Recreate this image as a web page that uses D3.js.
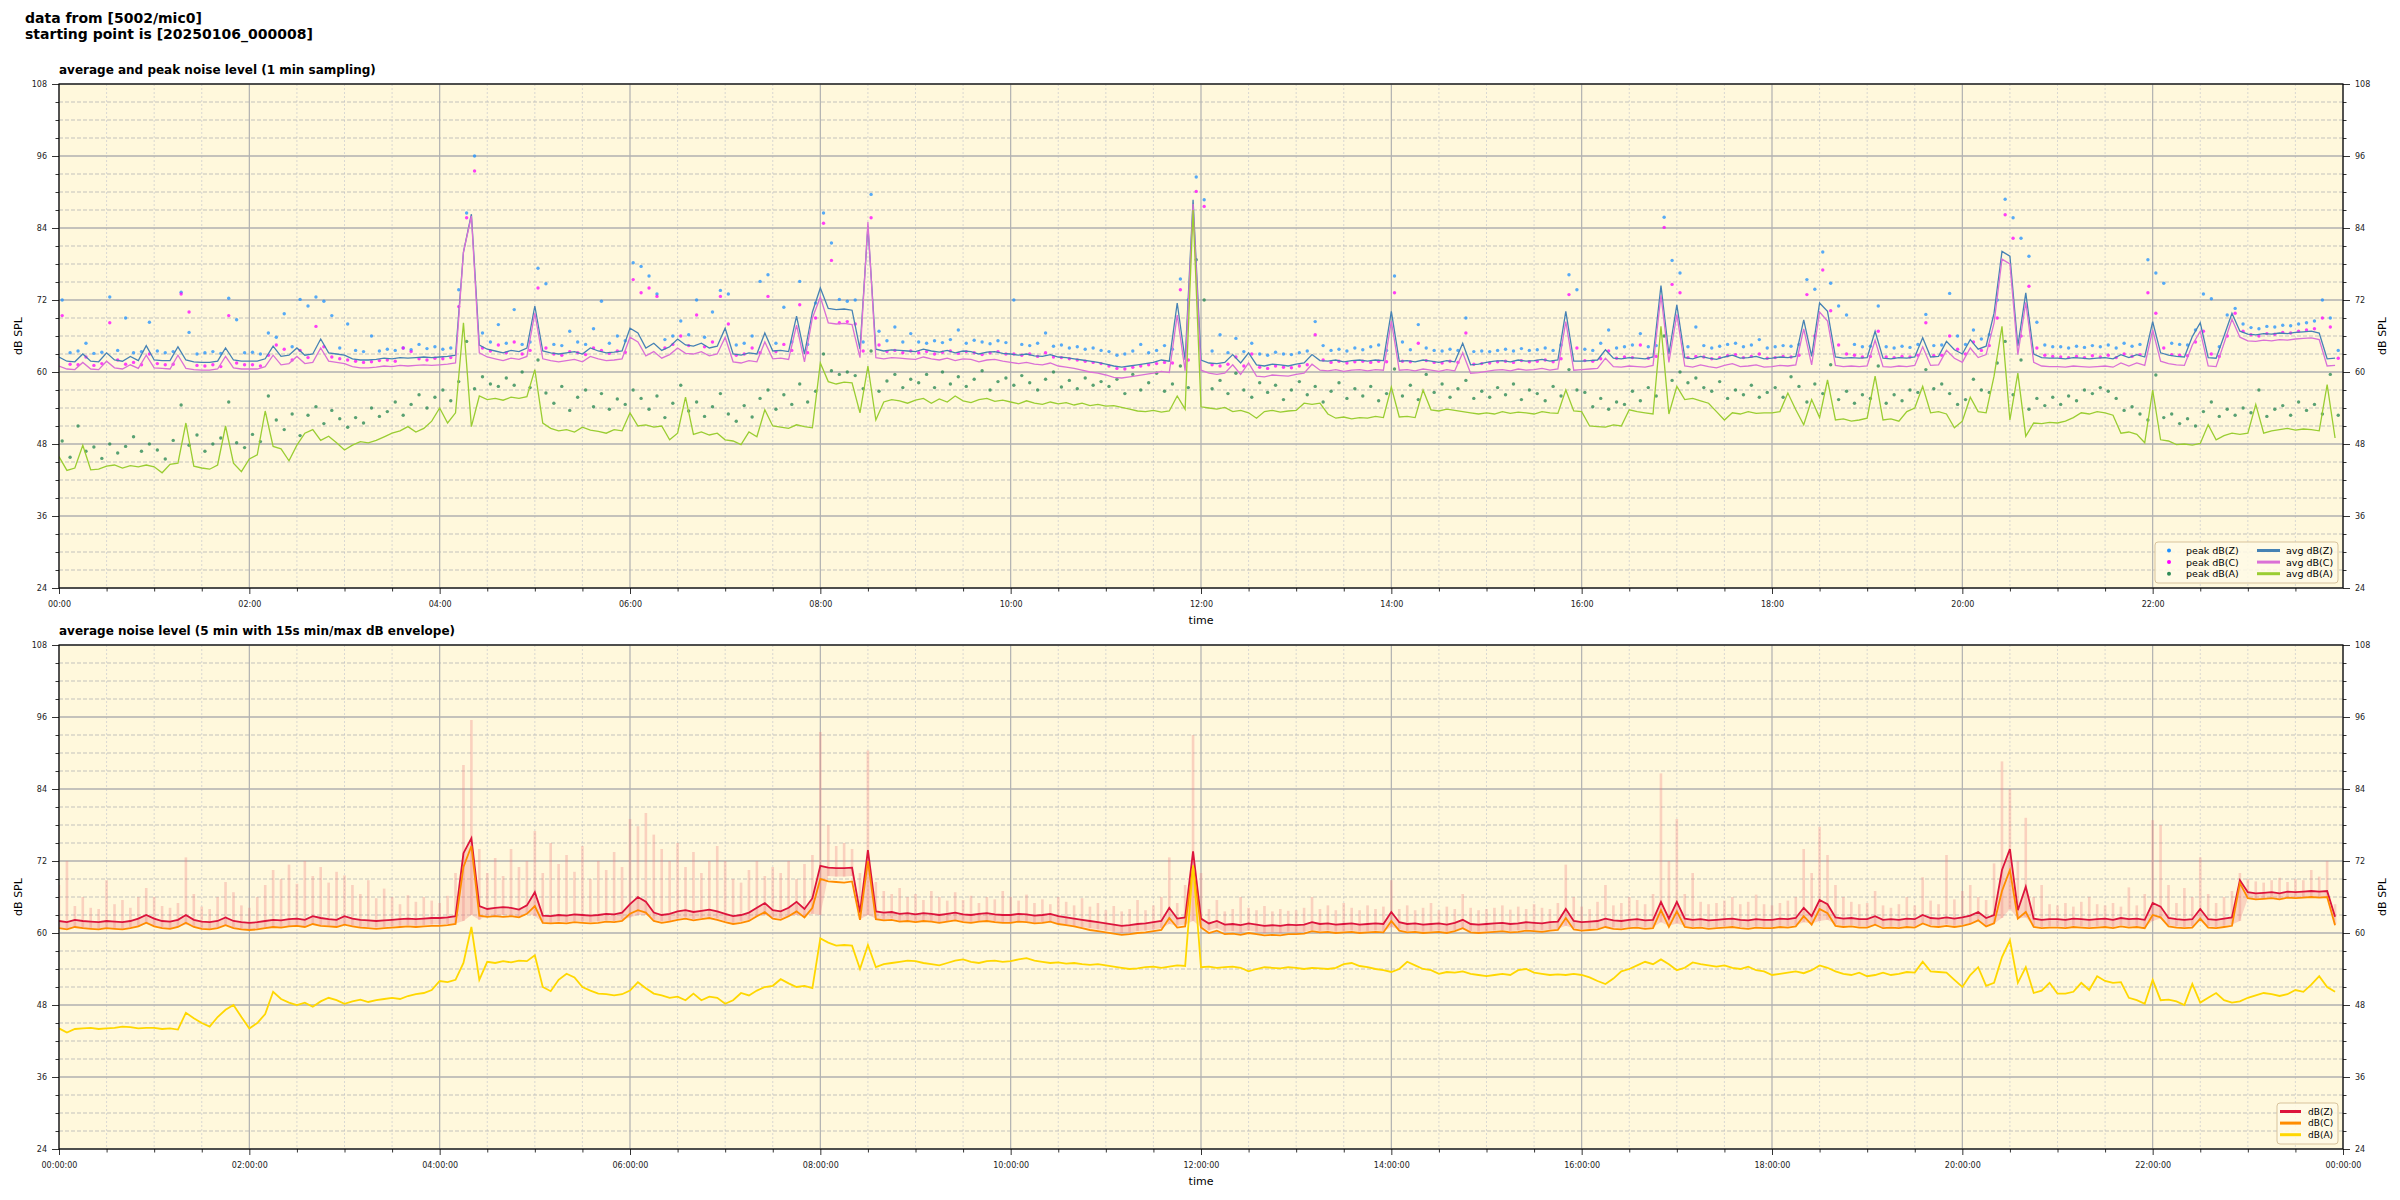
<!DOCTYPE html>
<html>
<head>
<meta charset="utf-8">
<script src="https://cdn.jsdelivr.net/npm/d3@7"></script>
<style>
  body { margin: 0; background: #fff; }
  svg { display: block; }
  text { font-family: "DejaVu Sans", sans-serif; }
</style>
</head>
<body>
<svg id="chart" width="2400" height="1200"></svg>
<script>
// values are 5 minute samples, 12 per row = one hour, 00:00 .. 23:55

// top panel, 1 min average (read at 5 min steps)
const avgZ = [
  62.5, 61.8, 61.7, 63.0, 61.8, 61.7, 63.2, 62.0, 61.8, 62.6, 61.9, 64.4,
  62.0, 61.9, 61.9, 64.2, 62.0, 61.7, 61.6, 61.6, 61.8, 64.0, 62.0, 61.8,
  61.8, 61.8, 62.2, 64.3, 62.6, 62.8, 64.0, 62.8, 63.0, 65.5, 63.2, 63.0,
  62.8, 62.2, 62.0, 62.0, 62.1, 62.3, 62.2, 62.4, 62.3, 62.4, 62.5, 62.4,
  62.5, 62.6, 62.8, 80.0, 86.3, 64.5, 63.8, 63.5, 63.2, 63.6, 63.4, 64.0,
  71.0, 63.5, 63.2, 63.0, 63.2, 63.4, 63.0, 64.0, 63.5, 63.2, 63.3, 63.5,
  67.3, 66.5, 64.0, 64.8, 63.6, 64.2, 65.5, 64.5, 64.3, 64.8, 64.0, 64.3,
  67.3, 63.0, 62.8, 63.2, 63.0, 66.5, 63.5, 63.6, 63.4, 69.3, 63.0, 70.0,
  74.0, 70.6, 70.4, 70.5, 70.3, 63.8, 84.3, 63.8, 63.5, 63.7, 63.6, 63.5,
  63.4, 63.8, 63.5, 63.3, 63.6, 63.2, 63.5, 63.4, 63.0, 63.3, 63.4, 63.1,
  63.0, 62.8, 63.0, 62.7, 62.6, 62.9, 62.5, 62.4, 62.2, 62.0, 61.8, 61.6,
  61.3, 61.0, 60.8, 61.0, 61.2, 61.4, 61.6, 62.0, 61.8, 71.5, 62.0, 88.7,
  62.0, 61.5, 61.4, 61.6, 62.9, 61.5, 63.2, 61.2, 61.0, 61.3, 61.2, 61.0,
  61.3, 61.5, 62.9, 61.9, 61.8, 62.0, 61.7, 61.9, 62.0, 61.8, 62.0, 61.9,
  70.1, 61.8, 61.9, 61.7, 62.0, 61.8, 61.6, 61.9, 61.7, 64.8, 61.2, 61.3,
  61.6, 61.8, 61.9, 61.7, 62.0, 61.8, 61.9, 62.1, 61.8, 62.0, 70.1, 61.8,
  61.8, 61.9, 62.0, 63.7, 62.3, 62.2, 62.4, 62.3, 62.2, 62.5, 74.4, 63.0,
  71.2, 62.4, 62.2, 62.6, 62.3, 62.1, 62.5, 62.8, 62.3, 62.4, 62.6, 62.2,
  62.3, 62.5, 62.4, 62.6, 68.7, 62.6, 71.5, 70.1, 62.5, 62.3, 62.4, 62.3,
  62.4, 66.8, 62.3, 62.2, 62.4, 62.3, 62.5, 65.7, 62.5, 62.6, 65.1, 63.7,
  63.0, 65.4, 63.8, 64.3, 69.8, 80.1, 79.3, 64.3, 73.2, 63.0, 62.4, 62.3,
  62.3, 62.2, 62.4, 62.3, 62.2, 62.3, 62.4, 62.2, 62.9, 62.4, 62.9, 62.5,
  68.4, 63.2, 62.8, 62.6, 62.5, 65.9, 68.2, 62.4, 62.3, 66.0, 69.8, 66.8,
  66.3, 66.2, 66.4, 66.3, 66.5, 66.4, 66.6, 66.7, 66.8, 66.5, 62.2, 62.3
];
const avgC = [
  61.0, 60.5, 60.4, 61.6, 60.5, 60.4, 61.8, 60.7, 60.5, 61.2, 60.6, 62.8,
  60.7, 60.6, 60.5, 62.8, 60.6, 60.4, 60.3, 60.3, 60.5, 62.6, 60.7, 60.5,
  60.5, 60.5, 60.9, 62.8, 61.2, 61.4, 62.6, 61.4, 61.6, 64.0, 61.8, 61.6,
  61.4, 60.9, 60.7, 60.7, 60.8, 61.0, 60.9, 61.1, 61.0, 61.1, 61.2, 61.1,
  61.2, 61.3, 61.5, 80.0, 86.0, 63.2, 62.5, 62.2, 61.9, 62.3, 62.1, 62.6,
  69.8, 62.2, 61.9, 61.7, 61.9, 62.1, 61.7, 62.6, 62.2, 61.9, 62.0, 62.2,
  65.8, 65.0, 62.7, 63.4, 62.3, 62.9, 64.0, 63.1, 63.0, 63.4, 62.7, 63.0,
  65.8, 61.7, 61.5, 61.9, 61.7, 65.0, 62.2, 62.3, 62.1, 67.8, 61.7, 69.0,
  72.5, 68.2, 68.0, 68.1, 67.9, 62.4, 85.0, 62.4, 62.2, 62.4, 62.3, 62.2,
  62.1, 62.5, 62.2, 62.0, 62.3, 61.9, 62.2, 62.1, 61.7, 62.0, 62.1, 61.8,
  61.6, 61.4, 61.6, 61.3, 61.2, 61.5, 61.0, 60.8, 60.6, 60.3, 60.0, 59.8,
  59.5, 59.1, 59.0, 59.2, 59.4, 59.6, 59.8, 60.1, 59.9, 69.5, 60.2, 88.0,
  60.3, 59.8, 59.6, 59.8, 61.2, 59.6, 61.5, 59.3, 59.2, 59.5, 59.4, 59.3,
  59.6, 59.8, 61.3, 60.3, 60.2, 60.4, 60.1, 60.3, 60.4, 60.2, 60.4, 60.3,
  68.5, 60.3, 60.4, 60.2, 60.5, 60.3, 60.1, 60.4, 60.2, 63.2, 59.8, 59.9,
  60.1, 60.3, 60.4, 60.2, 60.5, 60.3, 60.4, 60.6, 60.3, 60.5, 68.4, 60.3,
  60.4, 60.5, 60.6, 62.3, 60.9, 60.8, 61.0, 60.9, 60.8, 61.1, 72.8, 61.6,
  69.6, 61.0, 60.8, 61.2, 60.9, 60.7, 61.1, 61.4, 60.9, 61.0, 61.2, 60.8,
  60.9, 61.1, 61.0, 61.2, 67.2, 61.2, 70.0, 68.5, 61.1, 60.9, 61.0, 60.9,
  61.0, 65.3, 60.9, 60.8, 61.0, 60.9, 61.1, 64.2, 61.1, 61.2, 63.6, 62.3,
  61.6, 64.0, 62.4, 62.9, 68.2, 78.8, 78.0, 62.9, 71.6, 61.6, 61.0, 60.9,
  60.9, 60.8, 61.0, 60.9, 60.8, 60.9, 61.0, 60.8, 61.5, 61.0, 61.5, 61.1,
  67.0, 61.8, 61.4, 61.2, 61.1, 64.5, 66.8, 61.0, 60.9, 64.8, 68.8, 65.8,
  65.2, 65.1, 65.3, 65.2, 65.4, 65.3, 65.5, 65.6, 65.7, 65.4, 61.0, 61.1
];
const avgA = [
  45.9, 43.6, 44.0, 47.8, 43.7, 43.8, 44.3, 44.5, 44.0, 44.4, 44.2, 44.5,
  44.2, 43.2, 44.6, 44.8, 51.5, 44.3, 44.0, 43.8, 44.5, 51.0, 44.8, 43.4,
  45.5, 46.2, 53.5, 47.6, 47.2, 45.2, 47.8, 49.8, 50.4, 48.6, 49.3, 48.2,
  47.0, 47.8, 48.4, 48.2, 48.6, 49.2, 49.8, 50.2, 50.9, 50.0, 50.6, 51.8,
  54.0, 51.5, 53.2, 68.2, 50.9, 56.0, 55.4, 55.6, 55.3, 55.8, 55.6, 55.9,
  60.4, 51.5, 50.6, 50.2, 50.4, 50.0, 50.8, 50.3, 50.1, 49.8, 50.4, 50.2,
  53.2, 51.0, 51.2, 50.8, 51.0, 48.7, 49.8, 55.8, 49.6, 50.0, 49.5, 49.8,
  48.7, 48.5, 47.9, 50.0, 49.2, 53.7, 51.0, 50.8, 50.6, 51.2, 50.9, 50.7,
  61.5, 58.4, 58.0, 58.3, 58.2, 53.2, 61.0, 52.0, 55.0, 55.4, 55.2, 54.8,
  55.3, 55.6, 54.8, 55.5, 55.0, 56.0, 55.2, 54.9, 55.4, 55.6, 55.1, 55.3,
  55.0, 54.7, 55.2, 54.8, 54.6, 55.0, 54.7, 54.9, 54.5, 54.8, 54.4, 54.6,
  54.3, 54.4, 54.1, 53.8, 53.5, 53.4, 53.6, 53.3, 53.5, 56.0, 53.8, 87.0,
  54.2, 54.0, 53.8, 54.1, 53.4, 53.6, 53.2, 52.3, 53.4, 53.6, 53.3, 53.5,
  53.6, 54.8, 54.6, 54.8, 53.0, 52.3, 52.5, 52.2, 52.4, 52.3, 52.6, 52.4,
  57.5, 52.5, 52.6, 52.4, 57.0, 53.7, 53.5, 53.8, 53.6, 53.4, 53.2, 53.0,
  53.2, 53.0, 53.4, 53.1, 53.3, 53.2, 53.0, 53.4, 53.2, 53.1, 57.0, 53.5,
  53.4, 51.0, 50.9, 50.8, 51.2, 51.0, 53.7, 53.4, 53.2, 53.0, 67.6, 53.0,
  57.6, 55.4, 55.6, 55.2, 54.8, 53.4, 52.0, 53.2, 53.0, 53.4, 53.1, 53.2,
  53.2, 53.4, 56.5, 53.7, 51.2, 55.4, 52.4, 58.7, 52.0, 52.2, 51.8, 52.0,
  52.3, 59.3, 52.0, 52.2, 51.8, 53.4, 54.0, 57.6, 53.2, 53.4, 53.0, 50.7,
  51.8, 55.8, 53.4, 53.2, 59.3, 67.6, 52.0, 59.8, 49.3, 51.5, 51.4, 51.6,
  51.5, 51.8, 52.4, 53.2, 53.0, 53.4, 53.2, 52.8, 49.8, 50.0, 49.6, 48.2,
  57.0, 48.7, 48.5, 47.9, 48.0, 47.8, 48.1, 51.2, 48.7, 49.4, 49.8, 49.6,
  49.8, 54.6, 49.8, 50.2, 50.4, 50.6, 50.3, 50.5, 50.4, 50.2, 57.9, 49.0
];

// top panel, peak levels (read at 5 min steps, 2 min after each slot)
const peakZ = [
  72.0, 63.2, 63.5, 64.8, 63.1, 63.3, 72.5, 63.6, 69.0, 63.2, 63.4, 68.3,
  63.5, 63.2, 63.4, 73.3, 66.6, 63.0, 63.2, 63.4, 63.1, 72.3, 68.7, 63.2,
  63.3, 63.0, 66.5, 65.8, 69.7, 64.2, 72.1, 71.0, 72.5, 71.8, 69.4, 64.0,
  68.0, 63.6, 63.4, 66.0, 63.5, 63.8, 63.6, 64.0, 63.7, 64.6, 63.9, 64.2,
  63.8, 64.0, 73.7, 86.5, 96.0, 66.5, 65.0, 67.9, 64.8, 70.4, 64.6, 65.0,
  77.3, 74.7, 64.6, 64.4, 66.8, 65.0, 64.6, 67.2, 71.8, 64.8, 66.0, 65.2,
  78.2, 77.6, 76.0, 73.0, 65.4, 66.0, 68.5, 66.2, 72.0, 65.8, 70.0, 73.6,
  73.0, 64.5, 64.8, 66.0, 75.1, 76.2, 64.8, 70.8, 65.0, 75.1, 64.6, 71.5,
  86.5, 81.5, 72.1, 71.8, 72.0, 65.0, 89.6, 66.8, 65.2, 67.5, 65.0, 66.4,
  65.0, 64.8, 65.2, 64.9, 65.4, 67.0, 64.8, 65.3, 65.0, 64.7, 65.2, 64.9,
  72.0, 64.6, 64.4, 64.8, 66.5, 64.3, 64.5, 64.0, 64.2, 63.8, 64.0, 63.6,
  63.4, 62.8, 63.0, 63.5, 64.6, 63.2, 63.6, 64.4, 63.8, 75.5, 72.0, 92.5,
  88.7, 63.5, 66.2, 63.2, 65.6, 63.4, 64.8, 63.0, 62.8, 63.3, 63.0, 62.9,
  63.2, 63.5, 68.4, 64.4, 63.6, 63.8, 63.5, 64.0, 63.7, 64.2, 64.5, 63.6,
  76.0, 65.0, 63.7, 67.9, 64.0, 63.6, 63.5, 63.8, 63.6, 69.0, 63.4, 63.5,
  63.4, 63.6, 63.8, 63.5, 63.9, 63.6, 63.7, 64.0, 63.6, 64.5, 76.2, 73.7,
  63.8, 63.6, 64.8, 67.0, 64.0, 64.2, 64.5, 66.4, 64.2, 64.4, 85.8, 78.6,
  76.5, 64.2, 67.5, 64.4, 64.0, 64.3, 64.6, 64.8, 64.2, 64.5, 65.4, 64.0,
  64.2, 64.4, 64.3, 64.6, 75.4, 73.8, 80.0, 74.8, 71.0, 69.5, 64.6, 64.2,
  64.3, 71.0, 64.2, 64.0, 64.3, 64.1, 64.6, 69.6, 64.4, 64.5, 73.1, 66.0,
  64.6, 67.0, 65.5, 66.2, 72.0, 88.8, 85.7, 82.3, 79.3, 68.3, 64.5, 64.2,
  64.2, 64.0, 64.3, 64.1, 64.4, 64.2, 64.5, 64.0, 64.8, 64.3, 64.6, 78.7,
  76.5, 74.8, 64.8, 64.6, 64.5, 67.0, 73.0, 72.2, 64.2, 69.5, 70.6, 68.0,
  67.4, 67.2, 67.6, 67.5, 67.8, 67.7, 68.0, 68.2, 68.5, 72.0, 69.0, 63.6
];
const peakC = [
  69.4, 61.3, 61.2, 62.5, 61.1, 61.4, 68.2, 62.0, 61.3, 61.6, 61.2, 63.0,
  61.4, 61.2, 61.3, 73.0, 70.0, 61.1, 61.0, 61.2, 60.9, 69.4, 61.5, 61.2,
  61.2, 61.0, 62.8, 64.5, 63.8, 62.0, 63.6, 62.4, 67.6, 64.2, 62.5, 62.2,
  62.0, 61.8, 61.6, 61.7, 61.9, 62.0, 61.8, 64.0, 63.4, 62.2, 62.0, 62.3,
  62.2, 62.4, 70.9, 85.7, 93.5, 64.0, 63.5, 64.5, 63.2, 65.0, 63.0, 63.6,
  74.0, 64.0, 63.0, 62.8, 63.4, 63.2, 62.9, 64.0, 63.6, 63.1, 63.5, 63.3,
  75.4, 73.2, 74.0, 72.6, 64.0, 64.6, 66.0, 64.4, 69.5, 64.2, 65.0, 72.6,
  68.0, 62.8, 63.0, 64.0, 63.2, 72.6, 63.4, 64.6, 63.6, 71.2, 63.2, 69.0,
  84.8, 78.6, 68.2, 68.4, 68.0, 63.5, 85.7, 64.5, 63.4, 63.6, 63.2, 63.5,
  63.2, 63.4, 63.0, 63.3, 63.5, 63.1, 63.4, 63.2, 62.9, 63.2, 63.4, 63.0,
  63.0, 62.8, 63.0, 62.6, 63.2, 62.5, 62.4, 62.2, 62.0, 61.8, 61.6, 61.4,
  61.0, 60.6, 60.5, 60.8, 61.0, 61.2, 61.4, 61.6, 61.5, 73.7, 62.0, 90.1,
  87.6, 61.2, 61.0, 61.3, 62.5, 61.0, 63.0, 60.8, 60.6, 61.0, 60.8, 60.7,
  61.0, 61.2, 66.2, 62.0, 61.6, 61.8, 61.5, 61.7, 61.8, 61.6, 61.8, 61.7,
  73.2, 61.8, 61.7, 64.8, 61.9, 61.6, 61.5, 61.8, 61.6, 66.5, 61.3, 61.4,
  61.5, 61.7, 61.8, 61.6, 61.9, 61.7, 61.8, 62.0, 61.7, 62.2, 72.9, 64.0,
  61.9, 61.8, 62.2, 63.5, 62.3, 62.5, 62.4, 64.5, 62.3, 62.6, 84.1, 74.6,
  73.2, 62.4, 62.6, 62.5, 62.2, 62.4, 62.7, 62.9, 62.4, 62.6, 63.0, 62.3,
  62.4, 62.6, 62.5, 62.8, 72.9, 66.0, 77.0, 70.2, 64.5, 63.0, 62.8, 62.5,
  62.6, 66.8, 62.5, 62.4, 62.6, 62.5, 62.8, 68.2, 62.7, 62.8, 66.0, 63.8,
  63.0, 65.0, 63.6, 64.4, 69.0, 86.2, 82.3, 66.0, 74.3, 64.0, 62.8, 62.6,
  62.5, 62.4, 62.6, 62.4, 62.7, 62.5, 62.8, 62.4, 63.0, 62.6, 62.9, 73.2,
  69.8, 64.0, 62.9, 62.8, 62.7, 65.0, 66.8, 63.0, 62.6, 66.0, 69.8, 66.8,
  66.2, 66.0, 66.4, 66.3, 66.6, 66.5, 66.8, 67.0, 67.2, 69.0, 67.5, 62.3
];
const peakA = [
  48.5, 45.8, 51.0, 46.8, 47.5, 45.6, 48.0, 46.5, 47.6, 49.2, 46.8, 48.0,
  47.0, 45.5, 48.6, 54.5, 47.8, 49.5, 46.8, 48.0, 49.0, 55.0, 48.2, 47.4,
  49.6, 48.4, 56.0, 52.0, 50.4, 53.0, 49.4, 52.8, 54.2, 51.4, 53.6, 52.2,
  50.8, 52.4, 51.5, 54.0, 52.6, 53.4, 55.0, 52.8, 54.6, 56.2, 54.0, 55.8,
  57.0, 55.2, 58.4, 65.1, 57.2, 59.2, 58.0, 57.6, 59.0, 57.8, 60.0, 57.4,
  62.0, 56.5, 54.8, 57.6, 53.6, 55.8, 57.0, 54.2, 56.4, 53.8, 55.5, 54.6,
  57.0, 55.6, 53.8, 56.0, 52.4, 54.8, 57.8, 53.5, 55.0, 52.6, 54.2, 56.4,
  53.0, 51.8, 54.4, 52.5, 55.6, 57.0, 53.8, 56.2, 54.6, 58.0, 55.0, 56.8,
  63.0, 60.2, 59.6, 60.0, 59.4, 57.2, 63.5, 56.8, 58.5, 59.6, 57.4, 58.8,
  58.2, 59.6, 57.4, 60.0, 58.0, 59.2, 57.6, 58.8, 60.2, 57.0, 58.4, 59.0,
  57.8, 59.4, 58.2, 57.0, 58.8, 60.0, 57.5, 58.6, 57.2, 59.0, 57.8, 58.4,
  57.6, 58.8, 56.4, 59.6, 57.0, 58.2, 59.8, 56.8, 58.0, 61.0, 57.4, 78.7,
  72.0, 57.2, 58.6, 56.4, 59.8, 57.0, 55.8, 58.2, 56.6, 57.8, 55.4, 57.0,
  58.4, 56.2, 57.6, 55.0, 56.8, 58.2, 55.6, 57.2, 56.0, 57.6, 55.2, 56.4,
  60.5, 56.0, 57.8, 55.4, 59.6, 56.6, 58.0, 55.8, 57.2, 58.6, 55.6, 56.8,
  55.8, 57.4, 56.2, 58.0, 55.4, 57.0, 56.4, 55.2, 57.6, 56.0, 60.4, 57.0,
  56.6, 54.2, 55.6, 53.8, 55.0, 54.6, 56.8, 55.2, 57.4, 56.0, 66.0, 58.6,
  60.0, 58.2, 59.0, 57.4, 56.8, 58.4, 55.6, 57.0, 56.2, 57.8, 55.8, 56.6,
  57.4, 55.8, 59.2, 57.6, 55.0, 58.0, 56.4, 61.2, 55.4, 56.8, 54.8, 56.2,
  55.6, 61.0, 54.8, 56.2, 55.2, 57.0, 56.6, 60.4, 57.2, 58.0, 56.4, 54.6,
  55.4, 58.8, 57.0, 56.6, 61.5, 65.1, 56.2, 62.0, 53.8, 55.6, 54.4, 55.8,
  54.6, 56.0, 55.2, 57.0, 56.4, 57.4, 56.8, 55.6, 53.6, 54.2, 53.0, 52.0,
  59.5, 52.4, 53.0, 51.4, 52.2, 51.0, 53.4, 55.0, 52.6, 53.8, 52.8, 54.0,
  53.2, 57.0, 52.6, 53.8, 54.4, 52.8, 55.0, 53.6, 54.6, 53.0, 59.6, 52.8
];

// bottom panel, 5 min averages
const lvlZ = [
  62.0, 61.8, 62.2, 62.0, 61.9, 61.8, 62.0, 61.9, 61.8, 62.0, 62.4, 63.0,
  62.4, 62.0, 61.9, 62.2, 63.0, 62.2, 61.9, 61.8, 62.0, 62.6, 62.0, 61.8,
  61.7, 61.8, 62.0, 62.2, 62.1, 62.3, 62.4, 62.2, 62.8, 62.5, 62.3, 62.2,
  62.8, 62.4, 62.2, 62.1, 62.0, 62.1, 62.2, 62.3, 62.4, 62.3, 62.4, 62.5,
  62.5, 62.6, 62.8, 73.3, 75.8, 64.5, 64.0, 64.2, 64.3, 64.2, 63.9, 64.6,
  66.8, 62.9, 62.8, 63.0, 62.9, 63.1, 63.0, 62.9, 63.0, 63.2, 63.1, 63.4,
  64.8, 66.0, 65.2, 63.4, 63.0, 63.2, 63.6, 63.8, 63.5, 63.7, 63.9, 63.6,
  63.2, 62.8, 63.0, 63.4, 64.2, 65.0, 63.8, 63.6, 64.2, 65.2, 64.0, 65.8,
  71.2, 70.9, 70.8, 70.8, 70.9, 63.4, 73.8, 63.6, 63.4, 63.5, 63.2, 63.3,
  63.1, 63.3, 63.2, 63.0, 63.2, 63.4, 63.1, 63.0, 63.2, 63.3, 63.1, 63.0,
  63.0, 63.2, 63.1, 62.9, 63.0, 63.2, 62.8, 62.6, 62.4, 62.2, 62.0, 61.8,
  61.6, 61.4, 61.2, 61.3, 61.5, 61.6, 61.8, 62.0, 64.2, 62.4, 62.6, 73.6,
  62.4, 61.6, 62.0, 61.4, 61.5, 61.3, 61.6, 61.4, 61.2, 61.3, 61.2, 61.4,
  61.3, 61.4, 61.8, 61.5, 61.6, 61.4, 61.5, 61.6, 61.4, 61.5, 61.6, 61.5,
  63.5, 61.8, 61.5, 61.6, 61.4, 61.5, 61.6, 61.4, 61.7, 62.2, 61.5, 61.4,
  61.5, 61.6, 61.7, 61.5, 61.6, 61.8, 61.7, 61.6, 61.8, 61.9, 64.0, 62.0,
  61.8, 61.9, 62.0, 62.4, 62.1, 62.0, 62.2, 62.3, 62.1, 62.2, 65.2, 62.4,
  65.2, 62.4, 62.2, 62.3, 62.1, 62.2, 62.3, 62.4, 62.2, 62.1, 62.3, 62.2,
  62.2, 62.4, 62.3, 62.5, 64.2, 62.8, 65.5, 64.8, 62.6, 62.4, 62.5, 62.3,
  62.3, 62.8, 62.2, 62.3, 62.2, 62.4, 62.3, 63.0, 62.5, 62.4, 62.6, 62.4,
  62.6, 62.9, 63.5, 62.5, 63.0, 70.5, 74.0, 63.8, 67.7, 62.4, 62.2, 62.3,
  62.3, 62.2, 62.4, 62.3, 62.2, 62.3, 62.4, 62.2, 62.5, 62.3, 62.4, 62.2,
  65.0, 64.4, 62.5, 62.3, 62.2, 62.3, 64.0, 62.3, 62.2, 62.4, 62.6, 68.8,
  66.8, 66.6, 66.7, 66.8, 66.6, 66.9, 66.8, 66.9, 67.0, 66.9, 67.0, 62.7
];
const lvlC = [
  60.8, 60.6, 61.0, 60.8, 60.7, 60.6, 60.8, 60.7, 60.6, 60.8, 61.1, 61.7,
  61.1, 60.8, 60.7, 61.0, 61.7, 61.0, 60.7, 60.6, 60.8, 61.3, 60.8, 60.6,
  60.5, 60.6, 60.8, 61.0, 60.9, 61.1, 61.2, 61.0, 61.5, 61.2, 61.1, 61.0,
  61.4, 61.1, 60.9, 60.8, 60.7, 60.8, 60.9, 61.0, 61.1, 61.0, 61.1, 61.2,
  61.2, 61.3, 61.5, 71.0, 74.5, 62.9, 62.7, 62.8, 62.7, 62.8, 62.6, 63.2,
  64.5, 61.7, 61.6, 61.7, 61.6, 61.8, 61.7, 61.6, 61.7, 61.9, 61.8, 62.0,
  63.2, 63.8, 63.4, 62.0, 61.7, 61.9, 62.2, 62.4, 62.1, 62.3, 62.5, 62.2,
  61.8, 61.5, 61.7, 62.0, 62.8, 63.5, 62.4, 62.2, 62.8, 63.6, 62.6, 64.2,
  69.0, 68.6, 68.5, 68.4, 68.6, 62.2, 72.0, 62.3, 62.1, 62.2, 61.9, 62.0,
  61.8, 62.0, 61.9, 61.7, 61.9, 62.1, 61.8, 61.7, 61.9, 62.0, 61.8, 61.7,
  61.7, 61.9, 61.8, 61.6, 61.7, 61.9, 61.5, 61.3, 61.1, 60.8, 60.5, 60.3,
  60.1, 59.9, 59.7, 59.8, 60.0, 60.1, 60.3, 60.5, 62.5, 60.9, 61.1, 71.2,
  60.9, 60.0, 60.4, 59.8, 59.9, 59.7, 60.0, 59.8, 59.6, 59.7, 59.6, 59.8,
  59.8, 59.9, 60.3, 60.1, 60.2, 60.0, 60.1, 60.2, 60.0, 60.1, 60.2, 60.1,
  62.0, 60.4, 60.1, 60.2, 60.0, 60.1, 60.2, 60.0, 60.3, 60.8, 60.1, 60.0,
  60.1, 60.2, 60.3, 60.1, 60.2, 60.4, 60.3, 60.2, 60.4, 60.5, 62.5, 60.6,
  60.4, 60.5, 60.6, 61.0, 60.7, 60.6, 60.8, 60.9, 60.7, 60.8, 63.8, 61.0,
  63.6, 61.0, 60.8, 60.9, 60.7, 60.8, 60.9, 61.0, 60.8, 60.7, 60.9, 60.8,
  60.8, 61.0, 60.9, 61.1, 62.8, 61.4, 64.0, 63.3, 61.2, 61.0, 61.1, 60.9,
  60.9, 61.4, 60.8, 60.9, 60.8, 61.0, 60.9, 61.6, 61.1, 61.0, 61.2, 61.0,
  61.2, 61.5, 62.1, 61.1, 61.6, 67.0, 70.5, 62.4, 63.5, 61.0, 60.8, 60.9,
  60.9, 60.8, 61.0, 60.9, 60.8, 60.9, 61.0, 60.8, 61.1, 60.9, 61.0, 60.8,
  63.0, 62.6, 61.1, 60.9, 60.8, 60.9, 62.4, 60.9, 60.8, 61.0, 61.2, 68.3,
  65.8, 65.6, 65.7, 65.8, 65.6, 65.9, 65.8, 65.9, 66.0, 65.9, 66.0, 61.3
];
const lvlA = [
  44.1, 43.4, 44.0, 44.1, 44.2, 44.0, 44.1, 44.2, 44.4, 44.3, 44.1, 44.2,
  44.2, 44.0, 44.1, 43.9, 46.7, 45.8, 45.0, 44.4, 46.0, 47.2, 48.0, 46.0,
  44.1, 45.0, 46.5, 50.2, 49.0, 48.4, 48.0, 48.4, 47.7, 48.6, 49.2, 48.8,
  48.2, 48.6, 48.9, 48.5, 48.8, 49.0, 49.2, 49.0, 49.5, 49.8, 50.0, 50.5,
  52.0, 51.8, 52.2, 55.0, 61.0, 52.2, 55.2, 55.0, 55.3, 55.1, 55.4, 55.3,
  56.3, 51.0, 50.3, 52.2, 53.2, 52.6, 51.0, 50.4, 49.9, 49.8, 49.6, 49.8,
  50.4, 51.8, 50.8, 49.9, 49.6, 49.2, 49.4, 48.8, 49.9, 48.8, 49.4, 49.2,
  48.2, 48.8, 50.0, 49.6, 50.4, 51.0, 51.2, 52.3, 51.6, 51.0, 51.2, 50.8,
  59.1, 58.4, 57.9, 58.0, 57.9, 54.0, 58.0, 54.3, 54.8, 55.0, 55.2, 55.4,
  55.3, 55.0, 54.8, 54.6, 55.0, 55.4, 55.6, 55.2, 55.0, 55.3, 55.4, 55.2,
  55.3, 55.6, 55.8, 55.4, 55.2, 55.0, 55.1, 54.9, 55.0, 54.8, 54.7, 54.8,
  54.6, 54.4, 54.2, 54.0, 54.1, 54.3, 54.4, 54.2, 54.4, 54.6, 54.5, 71.3,
  54.3, 54.4, 54.2, 54.3, 54.4, 54.2, 53.6, 54.0, 54.3, 54.2, 54.1, 54.3,
  54.2, 54.0, 54.2, 54.1, 54.0, 54.2, 54.8, 55.0, 54.5, 54.3, 54.0, 53.8,
  53.5, 54.0, 55.2, 54.6, 54.0, 53.8, 53.2, 53.5, 53.4, 53.6, 53.2, 53.0,
  52.8, 53.0, 53.2, 53.0, 53.8, 54.0, 53.4, 53.2, 53.0, 53.1, 53.0, 53.2,
  53.0, 52.6, 52.0, 51.5, 52.4, 53.6, 54.0, 54.6, 55.2, 54.8, 55.6, 54.8,
  53.8, 54.2, 55.1, 54.8, 54.6, 54.4, 54.6, 54.2, 54.0, 54.4, 53.8, 53.6,
  53.0, 53.2, 53.4, 53.6, 53.3, 53.8, 54.6, 54.2, 53.6, 53.2, 53.0, 53.4,
  52.8, 53.0, 53.4, 53.0, 53.2, 53.5, 53.4, 55.2, 53.6, 53.5, 53.4, 52.2,
  51.0, 53.0, 54.3, 51.2, 51.7, 56.0, 58.8, 51.7, 54.3, 50.0, 50.4, 51.7,
  49.9, 49.9, 50.2, 51.7, 50.5, 52.8, 52.0, 51.7, 51.8, 49.2, 48.8, 48.2,
  52.2, 48.8, 48.9, 48.6, 48.0, 51.5, 48.4, 49.2, 50.0, 48.8, 48.4, 48.6,
  49.2, 49.6, 50.0, 49.8, 49.5, 49.8, 50.5, 50.2, 51.4, 52.8, 51.0, 50.2
];
// bottom panel, 15 s min/max envelope (per 5 min slot)
const envMax = [
  68.0, 72.0, 64.5, 66.0, 64.2, 64.0, 68.8, 64.8, 65.5, 64.2, 66.0, 67.5,
  66.0, 64.5, 64.2, 65.0, 72.6, 66.5, 64.4, 64.0, 66.0, 68.5, 66.8, 64.6,
  64.2, 66.0, 68.0, 70.5, 69.0, 71.4, 68.2, 72.0, 69.5, 71.0, 68.4, 70.2,
  69.6, 68.0, 66.5, 68.8, 65.8, 67.4, 66.0, 64.8, 66.3, 65.2, 66.0, 65.4,
  65.0, 66.2, 70.0, 88.0, 95.5, 74.0, 70.0, 72.5, 69.5, 74.0, 71.0, 72.0,
  77.0, 70.0, 75.0, 71.5, 73.0, 70.2, 74.5, 69.0, 72.0, 70.5, 73.5, 71.0,
  79.0, 77.8, 80.0, 76.4, 74.0, 72.0, 75.0, 71.0, 73.5, 70.0, 72.0, 74.5,
  72.0, 69.0, 68.4, 70.5, 72.0, 69.5, 71.0, 70.0, 72.0, 69.0, 71.5, 73.0,
  93.5, 78.0, 74.5, 75.0, 74.0, 70.0, 90.4, 68.5, 67.0, 66.5, 67.5, 66.0,
  66.5, 65.5, 67.0, 66.0, 65.4, 66.8, 65.5, 66.2, 65.0, 66.0, 65.6, 67.0,
  66.0, 65.4, 66.4, 65.0, 65.6, 64.8, 66.0, 65.2, 64.6, 65.8, 64.4, 65.0,
  63.8, 64.5, 63.6, 64.0, 65.5, 63.8, 64.6, 66.0, 72.6, 65.0, 68.0, 93.0,
  70.0, 64.0, 65.5, 63.6, 64.0, 66.0, 64.2, 63.8, 64.5, 63.6, 64.0, 63.7,
  63.8, 64.2, 66.0, 64.0, 64.6, 63.8, 65.0, 64.2, 63.8, 64.6, 64.0, 64.4,
  68.8, 64.0, 64.6, 63.8, 64.2, 65.0, 63.8, 64.4, 64.0, 66.5, 64.2, 63.8,
  64.0, 64.2, 64.6, 63.9, 64.4, 64.0, 64.8, 64.2, 64.0, 65.0, 71.4, 66.0,
  64.4, 64.0, 65.2, 68.0, 64.6, 65.0, 66.0, 65.5, 64.8, 66.5, 86.6, 72.0,
  79.0, 66.5, 70.0, 65.2, 64.8, 65.0, 65.4, 66.0, 64.8, 65.2, 66.4, 64.8,
  64.6, 65.0, 65.4, 66.0, 74.0, 70.0, 77.7, 73.0, 68.0, 66.0, 65.2, 64.8,
  65.0, 67.0, 64.6, 64.2, 64.8, 66.0, 64.6, 69.3, 65.4, 64.8, 73.0, 65.6,
  67.0, 68.0, 66.0, 65.5, 71.6, 88.6, 84.0, 72.0, 79.2, 66.0, 68.0, 64.8,
  64.6, 65.0, 64.4, 65.2, 66.0, 64.8, 64.6, 65.0, 64.4, 67.6, 64.6, 66.5,
  78.8, 78.0, 68.0, 65.0, 67.5, 66.0, 72.6, 66.5, 65.0, 66.0, 67.0, 70.0,
  69.0, 68.6, 68.4, 68.8, 69.2, 68.5, 69.0, 68.8, 70.5, 69.4, 72.0, 64.8
];
const envMin = [
  60.9, 60.7, 61.0, 60.8, 60.8, 60.7, 60.9, 60.8, 60.7, 60.9, 61.1, 61.5,
  61.2, 60.9, 60.8, 61.0, 61.4, 61.0, 60.8, 60.7, 60.9, 61.3, 60.9, 60.7,
  60.6, 60.7, 60.9, 61.0, 61.0, 61.1, 61.2, 61.0, 61.5, 61.3, 61.2, 61.0,
  61.5, 61.2, 61.0, 61.0, 60.9, 61.0, 61.1, 61.2, 61.3, 61.2, 61.3, 61.4,
  61.4, 61.5, 61.6, 62.0, 63.0, 62.2, 62.9, 62.8, 63.0, 62.9, 62.6, 63.3,
  62.8, 61.8, 61.7, 61.9, 61.8, 62.0, 61.9, 61.8, 61.9, 62.1, 62.0, 62.2,
  62.6, 63.0, 63.0, 62.2, 61.9, 62.0, 62.4, 62.6, 62.3, 62.5, 62.7, 62.4,
  62.0, 61.7, 61.9, 62.2, 62.8, 63.0, 62.6, 62.4, 62.8, 63.0, 62.8, 63.2,
  63.0, 69.5, 69.4, 69.4, 69.5, 62.3, 63.0, 62.4, 62.2, 62.4, 62.0, 62.1,
  61.9, 62.1, 62.0, 61.8, 62.0, 62.2, 61.9, 61.8, 62.0, 62.1, 61.9, 61.8,
  61.8, 62.0, 61.9, 61.7, 61.8, 62.0, 61.6, 61.4, 61.2, 61.0, 60.8, 60.6,
  60.4, 60.2, 60.0, 60.1, 60.3, 60.4, 60.6, 60.8, 61.5, 61.2, 61.4, 62.0,
  61.0, 60.4, 60.8, 60.2, 60.3, 60.1, 60.4, 60.2, 60.0, 60.1, 60.0, 60.2,
  60.1, 60.2, 60.5, 60.3, 60.4, 60.2, 60.3, 60.4, 60.2, 60.3, 60.4, 60.3,
  61.0, 60.6, 60.3, 60.4, 60.2, 60.3, 60.4, 60.2, 60.5, 60.8, 60.3, 60.2,
  60.3, 60.4, 60.5, 60.3, 60.4, 60.6, 60.5, 60.4, 60.6, 60.7, 61.2, 60.8,
  60.6, 60.7, 60.8, 61.1, 60.9, 60.8, 61.0, 61.1, 60.9, 61.0, 61.8, 61.2,
  61.6, 61.2, 61.0, 61.1, 60.9, 61.0, 61.1, 61.2, 61.0, 60.9, 61.1, 61.0,
  61.0, 61.2, 61.1, 61.3, 61.8, 61.6, 62.0, 62.2, 61.4, 61.2, 61.3, 61.1,
  61.1, 61.5, 61.0, 61.1, 61.0, 61.2, 61.1, 61.7, 61.3, 61.2, 61.4, 61.2,
  61.4, 61.6, 62.0, 61.3, 61.6, 62.5, 64.0, 62.4, 62.6, 61.2, 61.0, 61.1,
  61.1, 61.0, 61.2, 61.1, 61.0, 61.1, 61.2, 61.0, 61.3, 61.1, 61.2, 61.0,
  62.0, 62.4, 61.3, 61.1, 61.0, 61.1, 62.0, 61.1, 61.0, 61.2, 61.4, 62.0,
  65.8, 65.7, 65.8, 65.9, 65.7, 66.0, 65.9, 66.0, 66.1, 66.0, 66.1, 61.5
];

const yMajor = [24, 36, 48, 60, 72, 84, 96, 108];
const yMinor = d3.range(24, 109, 3).filter(v => v % 12 !== 0);
const xMajorTop = d3.range(0, 1440, 120);      // 00:00 .. 22:00
const xMajorBottom = d3.range(0, 1441, 120);   // 00:00:00 .. 00:00:00
const xMinor = d3.range(0, 1441, 30).filter(v => v % 120 !== 0);

const topLegend = [
  {label: "peak dB(Z)", color: "#1e90ff", kind: "dot"},
  {label: "peak dB(C)", color: "#ff00ff", kind: "dot"},
  {label: "peak dB(A)", color: "#2e8b57", kind: "dot"},
  {label: "avg dB(Z)", color: "#4682b4", kind: "line"},
  {label: "avg dB(C)", color: "#da70d6", kind: "line"},
  {label: "avg dB(A)", color: "#9acd32", kind: "line"}
];
const bottomLegend = [
  {label: "dB(Z)", color: "#dc143c"},
  {label: "dB(C)", color: "#ff8c00"},
  {label: "dB(A)", color: "#ffd700"}
];

const svg = d3.select("#chart");
const x = d3.scaleLinear().domain([0, 1440]).range([59, 2343]);
const pad2 = d3.format("02d");
const fmtTop = m => pad2(Math.floor(m / 60) % 24) + ":" + pad2(m % 60);
const fmtBottom = m => fmtTop(m) + ":00";

// titles
svg.append("text").attr("x", 25).attr("y", 23)
  .attr("font-size", 14).attr("font-weight", "bold").text("data from [5002/mic0]");
svg.append("text").attr("x", 25).attr("y", 39)
  .attr("font-size", 14).attr("font-weight", "bold").text("starting point is [20250106_000008]");

function panel(id, top, bottom, title, xMajor, fmt) {
  const y = d3.scaleLinear().domain([24, 108]).range([bottom, top]);
  const g = svg.append("g");
  const [x0, x1] = x.range();

  g.append("rect").attr("x", x0).attr("y", top)
    .attr("width", x1 - x0).attr("height", bottom - top).attr("fill", "#fff8dc");

  svg.append("clipPath").attr("id", id).append("rect")
    .attr("x", x0).attr("y", top).attr("width", x1 - x0).attr("height", bottom - top);

  // grid
  g.selectAll(null).data(xMinor).join("line")
    .attr("x1", d => x(d)).attr("x2", d => x(d)).attr("y1", top).attr("y2", bottom)
    .attr("stroke", "#cfcfcf").attr("stroke-width", 0.8).attr("stroke-dasharray", "2,2");
  g.selectAll(null).data(yMinor).join("line")
    .attr("x1", x0).attr("x2", x1).attr("y1", d => y(d)).attr("y2", d => y(d))
    .attr("stroke", "#b4b4b4").attr("stroke-width", 0.8).attr("stroke-dasharray", "4,2");
  g.selectAll(null).data(d3.range(0, 1441, 120)).join("line")
    .attr("x1", d => x(d)).attr("x2", d => x(d)).attr("y1", top).attr("y2", bottom)
    .attr("stroke", "#b0b0b0").attr("stroke-width", 1.2);
  g.selectAll(null).data(yMajor).join("line")
    .attr("x1", x0).attr("x2", x1).attr("y1", d => y(d)).attr("y2", d => y(d))
    .attr("stroke", "#b0b0b0").attr("stroke-width", 1.5);

  const plot = svg.append("g").attr("clip-path", `url(#${id})`);
  const axes = svg.append("g");

  const style = sel => {
    sel.select(".domain").remove();
    sel.selectAll("line").attr("stroke", "#000").attr("stroke-width", 0.8);
    sel.selectAll("text").attr("font-size", 8).attr("fill", "#222")
      .attr("font-family", "DejaVu Sans, sans-serif");
  };
  axes.append("g").attr("transform", `translate(0,${bottom})`)
    .call(d3.axisBottom(x).tickValues(xMajor).tickFormat(fmt).tickSize(6).tickPadding(7)).call(style);
  axes.append("g").attr("transform", `translate(0,${bottom})`)
    .call(d3.axisBottom(x).tickValues(xMinor).tickFormat("").tickSize(3.5)).call(style);
  axes.append("g").attr("transform", `translate(${x0},0)`)
    .call(d3.axisLeft(y).tickValues(yMajor).tickSize(7).tickPadding(5)).call(style);
  axes.append("g").attr("transform", `translate(${x0},0)`)
    .call(d3.axisLeft(y).tickValues(yMinor).tickFormat("").tickSize(3.5)).call(style);
  axes.append("g").attr("transform", `translate(${x1},0)`)
    .call(d3.axisRight(y).tickValues(yMajor).tickSize(7).tickPadding(5)).call(style);
  axes.append("g").attr("transform", `translate(${x1},0)`)
    .call(d3.axisRight(y).tickValues(yMinor).tickFormat("").tickSize(3.5)).call(style);

  axes.append("rect").attr("x", x0).attr("y", top)
    .attr("width", x1 - x0).attr("height", bottom - top)
    .attr("fill", "none").attr("stroke", "#000").attr("stroke-width", 1.2);

  axes.append("text").attr("x", x0).attr("y", top - 10)
    .attr("font-size", 12).attr("font-weight", "bold").text(title);
  axes.append("text").attr("x", (x0 + x1) / 2).attr("y", bottom + 36)
    .attr("text-anchor", "middle").attr("font-size", 11).text("time");
  const mid = (top + bottom) / 2;
  axes.append("text").attr("transform", `translate(22,${mid}) rotate(-90)`)
    .attr("text-anchor", "middle").attr("font-size", 11).text("dB SPL");
  axes.append("text").attr("transform", `translate(2386,${mid}) rotate(-90)`)
    .attr("text-anchor", "middle").attr("font-size", 11).text("dB SPL");

  return {y, plot, axes};
}

// ---- top panel
const p1 = panel("clipTop", 84, 588, "average and peak noise level (1 min sampling)", xMajorTop, fmtTop);
const lineTop = d3.line().x((d, i) => x(i * 5)).y(d => p1.y(d));

[[peakZ, "#1e90ff", 0.75], [peakC, "#ff00ff", 0.75], [peakA, "#2e8b57", 0.8]].forEach(([vals, col, op]) => {
  p1.plot.append("g").selectAll("circle").data(vals).join("circle")
    .attr("cx", (d, i) => x(i * 5 + 2)).attr("cy", d => p1.y(d))
    .attr("r", 1.7).attr("fill", col).attr("fill-opacity", op);
});
[[avgZ, "#4682b4"], [avgC, "#da70d6"], [avgA, "#9acd32"]].forEach(([vals, col]) => {
  p1.plot.append("path").datum(vals).attr("d", lineTop)
    .attr("fill", "none").attr("stroke", col).attr("stroke-width", 1.3);
});

// top legend
const lg1 = p1.axes.append("g");
lg1.append("rect").attr("x", 2155).attr("y", 542).attr("width", 183).attr("height", 41)
  .attr("rx", 3).attr("fill", "#fffae6").attr("fill-opacity", 0.85)
  .attr("stroke", "#d8c39c").attr("stroke-width", 1);
topLegend.forEach((d, i) => {
  const col = Math.floor(i / 3), row = i % 3;
  const cy = 550.5 + row * 11.6;
  const bx = col === 0 ? 2169 : 2257;
  if (d.kind === "dot") {
    lg1.append("circle").attr("cx", bx).attr("cy", cy).attr("r", 2).attr("fill", d.color);
  } else {
    lg1.append("line").attr("x1", bx).attr("x2", bx + 23).attr("y1", cy).attr("y2", cy)
      .attr("stroke", d.color).attr("stroke-width", 3);
  }
  lg1.append("text").attr("x", col === 0 ? 2186 : 2286).attr("y", cy + 3.4)
    .attr("font-size", 9.5).text(d.label);
});

// ---- bottom panel
const p2 = panel("clipBottom", 645, 1149, "average noise level (5 min with 15s min/max dB envelope)", xMajorBottom, fmtBottom);
const lineBottom = d3.line().x((d, i) => x(i * 5)).y(d => p2.y(d));

// envelope: continuous band from the minimum up to the average, thin spikes up to the maximum
const envBand = d3.area().x((d, i) => x(i * 5))
  .y0(d => p2.y(d)).y1((d, i) => p2.y(lvlZ[i]));
p2.plot.append("path").datum(envMin).attr("d", envBand)
  .attr("fill", "#f08080").attr("fill-opacity", 0.3);
p2.plot.append("g").selectAll("rect").data(envMax).join("rect")
  .attr("x", (d, i) => x(i * 5) - 1.3).attr("width", 2.6)
  .attr("y", d => p2.y(d))
  .attr("height", (d, i) => Math.max(0, p2.y(envMin[i]) - p2.y(d)))
  .attr("fill", "#f08080").attr("fill-opacity", 0.32);

[[lvlZ, "#dc143c"], [lvlC, "#ff8c00"], [lvlA, "#ffd700"]].forEach(([vals, col]) => {
  p2.plot.append("path").datum(vals).attr("d", lineBottom)
    .attr("fill", "none").attr("stroke", col).attr("stroke-width", 1.8);
});

const lg2 = p2.axes.append("g");
lg2.append("rect").attr("x", 2277).attr("y", 1103).attr("width", 61).attr("height", 41)
  .attr("rx", 3).attr("fill", "#fffae6").attr("fill-opacity", 0.85)
  .attr("stroke", "#d8c39c").attr("stroke-width", 1);
bottomLegend.forEach((d, i) => {
  const cy = 1111.5 + i * 11.6;
  lg2.append("line").attr("x1", 2280).attr("x2", 2301).attr("y1", cy).attr("y2", cy)
    .attr("stroke", d.color).attr("stroke-width", 3);
  lg2.append("text").attr("x", 2308).attr("y", cy + 3.3).attr("font-size", 9).text(d.label);
});
</script>
</body>
</html>
